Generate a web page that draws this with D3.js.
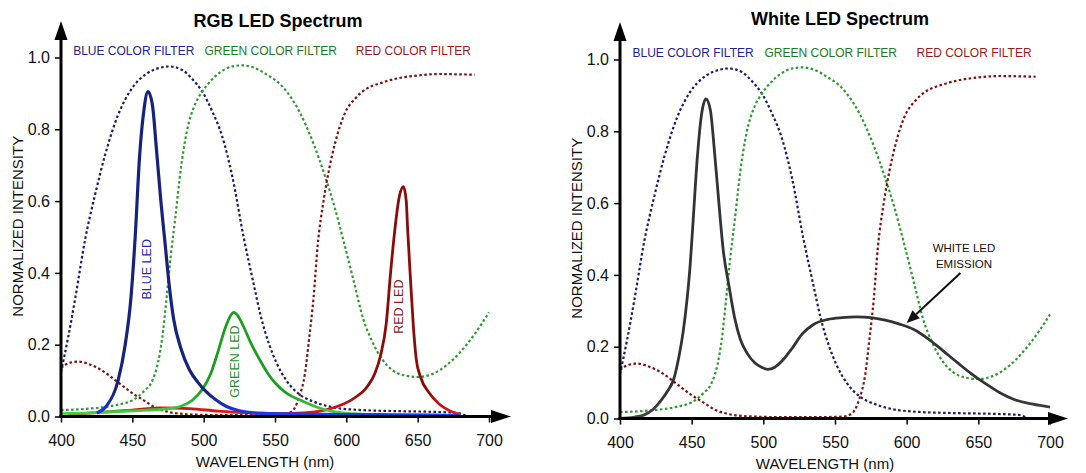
<!DOCTYPE html>
<html>
<head>
<meta charset="utf-8">
<script src="https://cdn.jsdelivr.net/npm/d3@7"></script>
<style>
body { margin: 0; background: #fff; }
text { font-family: "Liberation Sans", Arial, sans-serif; }
</style>
</head>
<body>
<div id="chart"></div>
<script>
// axis ticks
var wavelengthTicks = [400, 450, 500, 550, 600, 650, 700];
var intensityTicks = [0, 0.2, 0.4, 0.6, 0.8, 1.0];

// filter labels (text, wavelength of label centre)
var filterNames = ["BLUE COLOR FILTER", "GREEN COLOR FILTER", "RED COLOR FILTER"];
var filterLabelAt = [451, 547, 647];

// color filter transmission [nm, intensity] - same in both panels
var blueFilter = [[400,0.125],[405,0.22],[410,0.33],[417,0.495],[424,0.62],[431,0.73],[440,0.84],[449,0.91],
	[460,0.955],[470,0.972],[476,0.975],[485,0.965],[492,0.94],[499,0.905],[506,0.85],[513,0.78],[520,0.67],
	[528,0.5],[535,0.37],[540,0.28],[546,0.2],[551,0.15],[558,0.1],[567,0.062],[578,0.04],[590,0.026],
	[610,0.018],[635,0.015],[660,0.013],[678,0.01],[685,0.0]];
var greenFilter = [[400,0.018],[420,0.022],[440,0.033],[450,0.045],[458,0.07],[464,0.1],[468,0.15],[471,0.22],
	[474,0.33],[477,0.45],[480,0.55],[484,0.69],[488,0.79],[494,0.87],[499,0.905],[505,0.935],[512,0.96],
	[520,0.975],[527,0.978],[535,0.972],[544,0.953],[555,0.92],[567,0.85],[577,0.76],[585,0.67],[592,0.58],
	[598,0.49],[605,0.38],[612,0.27],[618,0.21],[625,0.16],[632,0.13],[640,0.115],[650,0.11],[660,0.118],
	[671,0.145],[680,0.18],[690,0.23],[700,0.29]];
var redFilter = [[400,0.135],[405,0.148],[412,0.153],[420,0.145],[430,0.125],[440,0.095],[450,0.065],[458,0.045],
	[466,0.025],[475,0.013],[490,0.006],[510,0.004],[540,0.004],[555,0.005],[560,0.01],[564,0.025],[567,0.055],
	[571,0.12],[574,0.22],[577,0.33],[580,0.48],[584,0.6],[588,0.69],[592,0.76],[599,0.845],[606,0.885],
	[613,0.91],[625,0.93],[636,0.942],[650,0.95],[665,0.954],[680,0.953],[690,0.952]];

// RGB LED emission
var blueLed = [[425,0.01],[432,0.03],[440,0.1],[445,0.2],[449,0.33],[452,0.5],[455,0.72],[458,0.85],[461,0.905],
	[464,0.87],[467,0.74],[470,0.6],[473,0.48],[476,0.36],[479,0.27],[484,0.19],[490,0.13],[496,0.095],
	[501,0.072],[508,0.048],[516,0.028],[525,0.016],[535,0.01],[550,0.008],[580,0.006],[620,0.005],
	[660,0.004],[680,0.002]];
var greenLed = [[400,0.008],[420,0.01],[440,0.014],[460,0.018],[475,0.022],[485,0.03],[492,0.045],[499,0.075],
	[505,0.12],[510,0.18],[515,0.245],[519,0.282],[521,0.29],[524,0.28],[528,0.25],[533,0.205],[539,0.16],
	[545,0.12],[550,0.094],[558,0.065],[568,0.045],[580,0.025],[590,0.014],[605,0.008],[630,0.004],[660,0.002]];
var redLed = [[405,0.005],[430,0.012],[450,0.018],[470,0.024],[490,0.022],[510,0.015],[530,0.01],[550,0.008],
	[570,0.01],[585,0.018],[595,0.03],[605,0.05],[615,0.085],[620,0.12],[624,0.17],[628,0.26],[631,0.4],
	[634,0.52],[637,0.61],[640,0.64],[642,0.6],[643,0.52],[645,0.38],[647,0.25],[649,0.16],[652,0.11],
	[658,0.066],[665,0.035],[672,0.017],[680,0.005]];

// white LED emission
var whiteLed = [[400,0],[410,0.004],[417,0.01],[423,0.025],[428,0.047],[433,0.075],[437.5,0.11],[441,0.17],
	[444,0.24],[447,0.34],[449,0.43],[451,0.55],[454,0.73],[457,0.85],[460,0.89],[463,0.86],[466,0.74],
	[469,0.6],[472,0.47],[476,0.37],[480,0.28],[484,0.22],[489,0.18],[494,0.155],[499,0.142],[503,0.137],
	[508,0.143],[513,0.16],[520,0.195],[527,0.235],[535,0.262],[545,0.276],[555,0.281],[565,0.283],
	[575,0.281],[585,0.274],[595,0.263],[605,0.248],[615,0.222],[625,0.19],[635,0.157],[645,0.125],
	[655,0.097],[665,0.072],[675,0.053],[688,0.04],[700,0.032]];

// annotation: arrow tail/tip and text rows [nm, intensity]
var arrowFrom = [637.5, 0.405], arrowTo = [600, 0.266];
var noteLines = ["WHITE LED", "EMISSION"], noteAt = [[640, 0.465], [640, 0.42]];

var svg = d3.select("#chart").append("svg")
	.attr("width", 1086)
	.attr("height", 473);

var defs = svg.append("defs");

function drawPanel(p) {
	var x = d3.scaleLinear().domain([400, 700]).range([p.x0, p.x1]);
	var y = d3.scaleLinear().domain([0, 1]).range([p.y0, p.y1]);
	var g = svg.append("g");

	var line = d3.line()
		.x(function(d) { return x(d[0]); })
		.y(function(d) { return y(d[1]); })
		.curve(d3.curveMonotoneX);

	// title
	g.append("text")
		.attr("x", p.titleX).attr("y", p.titleY)
		.attr("text-anchor", "middle")
		.attr("font-size", "18px").attr("font-weight", "bold")
		.text(p.title);

	// filter labels
	var filterColors = ["#23238f", "#247a24", "#9a1c1c"];
	filterNames.forEach(function(t, i) {
		g.append("text")
			.attr("x", x(filterLabelAt[i])).attr("y", y(1.007))
			.attr("text-anchor", "middle")
			.attr("font-size", "12px")
			.attr("fill", filterColors[i])
			.text(t);
	});

	// dotted filter curves
	[[blueFilter, "#1c1c6a"], [greenFilter, "#2f9a2f"], [redFilter, "#7a1414"]].forEach(function(f) {
		g.append("path")
			.datum(f[0])
			.attr("d", line)
			.attr("fill", "none")
			.attr("stroke", f[1])
			.attr("stroke-width", 2.2)
			.attr("stroke-dasharray", "2.6,2.4");
	});

	// emission curves, brighter colour right at the baseline
	p.leds.forEach(function(led, i) {
		var gid = "grad" + p.id + i;
		var grad = defs.append("linearGradient")
			.attr("id", gid)
			.attr("gradientUnits", "userSpaceOnUse")
			.attr("x1", 0).attr("x2", 0)
			.attr("y1", y(0.07)).attr("y2", y(0.0));
		grad.append("stop").attr("offset", "0").attr("stop-color", led.color);
		grad.append("stop").attr("offset", "1").attr("stop-color", led.base);
		g.append("path")
			.datum(led.data)
			.attr("d", line)
			.attr("fill", "none")
			.attr("stroke", "url(#" + gid + ")")
			.attr("stroke-width", led.width)
			.attr("stroke-linejoin", "round");
	});

	// LED labels
	(p.labels || []).forEach(function(l) {
		g.append("text")
			.attr("transform", "translate(" + x(l.at[0]) + "," + y(l.at[1]) + ") rotate(-90)")
			.attr("text-anchor", "middle")
			.attr("dy", "0.35em")
			.attr("font-size", "12.5px")
			.attr("fill", l.color)
			.text(l.text);
	});

	// annotation with arrow
	if (p.note) {
		noteLines.forEach(function(t, i) {
			g.append("text")
				.attr("x", x(noteAt[i][0])).attr("y", y(noteAt[i][1]))
				.attr("text-anchor", "middle")
				.attr("font-size", "11.5px")
				.attr("fill", "#111")
				.text(t);
		});
		var ax0 = x(arrowFrom[0]), ay0 = y(arrowFrom[1]);
		var ax1 = x(arrowTo[0]), ay1 = y(arrowTo[1]);
		var ang = Math.atan2(ay1 - ay0, ax1 - ax0);
		var hl = 13, hw = 5.5;
		var bx = ax1 - hl * Math.cos(ang), by = ay1 - hl * Math.sin(ang);
		g.append("line")
			.attr("x1", ax0).attr("y1", ay0)
			.attr("x2", bx).attr("y2", by)
			.attr("stroke", "#111").attr("stroke-width", 2);
		g.append("path")
			.attr("d", "M" + ax1 + "," + ay1 +
				"L" + (bx + hw * Math.sin(ang)) + "," + (by - hw * Math.cos(ang)) +
				"L" + (bx - hw * Math.sin(ang)) + "," + (by + hw * Math.cos(ang)) + "Z")
			.attr("fill", "#111");
	}

	// x axis
	g.append("g")
		.attr("transform", "translate(0," + p.y0 + ")")
		.call(d3.axisBottom(x).tickValues(wavelengthTicks).tickSize(6).tickPadding(12).tickFormat(d3.format("d")))
		.call(function(a) { a.select(".domain").remove(); })
		.call(function(a) {
			a.selectAll("line").attr("stroke", "#000").attr("stroke-width", 1.5);
			a.selectAll("text").attr("font-size", "16px").attr("fill", "#111")
				.style("font-family", "'Liberation Sans', Arial, sans-serif");
		});

	// y axis
	g.append("g")
		.attr("transform", "translate(" + p.x0 + ",0)")
		.call(d3.axisLeft(y).tickValues(intensityTicks).tickSize(6).tickPadding(5).tickFormat(d3.format(".1f")))
		.call(function(a) { a.select(".domain").remove(); })
		.call(function(a) {
			a.selectAll("line").attr("stroke", "#000").attr("stroke-width", 1.5);
			a.selectAll("text").attr("font-size", "16px").attr("fill", "#111")
				.style("font-family", "'Liberation Sans', Arial, sans-serif");
		});

	// thick axis lines with arrow heads
	g.append("line")
		.attr("x1", p.x0).attr("y1", p.y0 + 1.5)
		.attr("x2", p.x0).attr("y2", p.arrowTop + 18)
		.attr("stroke", "#000").attr("stroke-width", 3);
	g.append("path")
		.attr("d", "M" + p.x0 + "," + p.arrowTop + "l6.5,19h-13z")
		.attr("fill", "#000");
	g.append("line")
		.attr("x1", p.x0 - 1.5).attr("y1", p.y0)
		.attr("x2", p.arrowRight - 18).attr("y2", p.y0)
		.attr("stroke", "#000").attr("stroke-width", 3);
	g.append("path")
		.attr("d", "M" + p.arrowRight + "," + p.y0 + "l-20,-6.5v13z")
		.attr("fill", "#000");

	// axis titles
	g.append("text")
		.attr("x", (p.x0 + p.x1) / 2 - 10).attr("y", p.y0 + 50)
		.attr("text-anchor", "middle")
		.attr("font-size", "15px").attr("fill", "#111")
		.text("WAVELENGTH (nm)");
	g.append("text")
		.attr("transform", "translate(" + (p.x0 - 43) + "," + y(0.53) + ") rotate(-90)")
		.attr("text-anchor", "middle")
		.attr("dy", "0.35em")
		.attr("font-size", "15px").attr("fill", "#111")
		.text("NORMALIZED INTENSITY");
}

drawPanel({
	id: "rgb", title: "RGB LED Spectrum", titleX: 278, titleY: 27,
	x0: 61, x1: 489, y0: 416.5, y1: 57.5, arrowTop: 21, arrowRight: 511,
	leds: [
		{data: redLed, color: "#8c0a0a", base: "#ee1c1c", width: 2.8},
		{data: greenLed, color: "#1e9e1e", base: "#48d848", width: 2.8},
		{data: blueLed, color: "#17227e", base: "#1e3cf0", width: 3.2}
	],
	labels: [
		{text: "BLUE LED", at: [460, 0.41], color: "#2b2bb0"},
		{text: "GREEN LED", at: [522, 0.153], color: "#23912a"},
		{text: "RED LED", at: [636.5, 0.306], color: "#8e1a1a"}
	]
});

drawPanel({
	id: "white", title: "White LED Spectrum", titleX: 840, titleY: 25,
	x0: 620, x1: 1050, y0: 418.5, y1: 59.5, arrowTop: 22, arrowRight: 1068,
	leds: [
		{data: whiteLed, color: "#333333", base: "#444444", width: 2.8}
	],
	note: true
});
</script>
</body>
</html>
